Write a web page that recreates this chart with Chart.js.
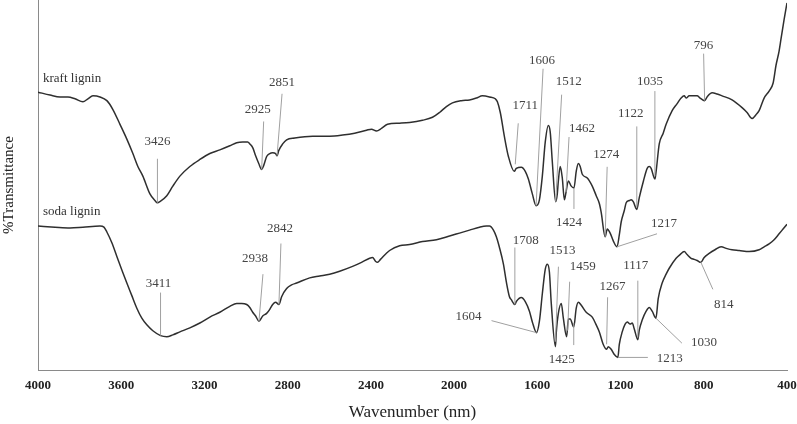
<!DOCTYPE html>
<html>
<head>
<meta charset="utf-8">
<script src="https://cdn.jsdelivr.net/npm/chart.js@4.4.0/dist/chart.umd.min.js"></script>
<style>
  body { margin: 0; background: #fff; }
  #wrap { width: 797px; height: 424px; }
</style>
</head>
<body>
<div id="wrap"><canvas id="ftir" width="797" height="424"></canvas></div>
<script>
// wavenumber (cm-1 as labelled) and relative transmittance
const kraftWn = [4000, 3942, 3894, 3856, 3822, 3784, 3760, 3736, 3702, 3669, 3640, 3606, 3573, 3544, 3520, 3496, 3462, 3438, 3426, 3414, 3381, 3352, 3318, 3270, 3222, 3174, 3126, 3078, 3045, 3016, 2992, 2982, 2968, 2954, 2939, 2925, 2915, 2901, 2886, 2872, 2858, 2851, 2843, 2824, 2805, 2766, 2680, 2598, 2536, 2478, 2421, 2397, 2373, 2349, 2320, 2262, 2214, 2152, 2104, 2070, 2037, 2008, 1965, 1926, 1893, 1864, 1830, 1802, 1792, 1778, 1758, 1739, 1711, 1701, 1677, 1658, 1643, 1624, 1606, 1590, 1576, 1562, 1547, 1538, 1528, 1512, 1504, 1499, 1490, 1480, 1470, 1462, 1451, 1437, 1424, 1413, 1403, 1394, 1384, 1360, 1336, 1317, 1302, 1293, 1274, 1264, 1250, 1235, 1217, 1206, 1197, 1182, 1173, 1158, 1149, 1139, 1122, 1110, 1090, 1072, 1062, 1053, 1035, 1029, 1014, 995, 981, 952, 928, 909, 894, 885, 870, 846, 832, 818, 796, 784, 760, 736, 712, 664, 616, 592, 568, 549, 534, 510, 486, 467, 453, 438, 429, 414, 400];
const kraftT = [75.1, 74.3, 73.8, 73.8, 73.3, 72.5, 73.3, 74.1, 73.8, 72.8, 70.4, 66.4, 62.4, 58.5, 55.0, 52.4, 47.6, 45.8, 45.2, 45.5, 47.1, 49.7, 52.4, 55.0, 56.9, 58.5, 59.5, 60.6, 61.4, 61.6, 61.6, 61.1, 60.1, 57.9, 55.8, 54.2, 55.3, 57.7, 58.5, 58.7, 58.5, 57.9, 59.3, 61.1, 62.2, 62.7, 63.2, 63.2, 63.5, 64.0, 64.8, 65.1, 64.6, 65.3, 66.4, 66.7, 66.9, 67.5, 68.3, 69.6, 71.2, 72.2, 72.8, 73.0, 73.5, 74.1, 73.8, 73.3, 72.5, 69.6, 63.0, 57.7, 53.7, 54.5, 54.8, 53.7, 51.6, 47.6, 44.4, 46.0, 52.4, 61.6, 66.1, 64.3, 56.3, 45.5, 47.6, 51.1, 55.0, 51.9, 46.0, 48.1, 51.1, 49.7, 49.2, 53.7, 55.8, 55.0, 52.9, 51.9, 49.7, 47.1, 45.0, 42.6, 36.0, 38.1, 37.0, 34.9, 33.3, 36.5, 40.0, 43.1, 45.2, 45.8, 46.0, 45.5, 43.4, 46.6, 51.1, 54.5, 55.0, 54.5, 51.6, 53.7, 61.1, 64.0, 66.4, 70.1, 72.0, 73.5, 74.1, 73.5, 74.1, 74.1, 74.1, 73.5, 72.8, 73.8, 74.9, 74.6, 74.1, 73.0, 70.9, 69.6, 68.0, 69.0, 70.1, 73.5, 75.4, 77.5, 82.3, 86.2, 89.4, 94.7, 99.2];

const sodaWn = [4000, 3918, 3846, 3784, 3702, 3683, 3669, 3645, 3621, 3597, 3573, 3549, 3525, 3501, 3477, 3448, 3411, 3381, 3352, 3318, 3270, 3222, 3174, 3126, 3078, 3045, 3021, 2997, 2982, 2968, 2954, 2938, 2920, 2901, 2886, 2872, 2858, 2842, 2829, 2805, 2781, 2757, 2694, 2646, 2598, 2550, 2488, 2445, 2406, 2392, 2378, 2368, 2354, 2310, 2262, 2214, 2152, 2085, 2022, 1974, 1926, 1878, 1845, 1830, 1811, 1797, 1782, 1763, 1749, 1734, 1725, 1708, 1701, 1677, 1658, 1638, 1624, 1604, 1590, 1576, 1562, 1552, 1542, 1533, 1513, 1509, 1499, 1485, 1475, 1459, 1451, 1442, 1425, 1413, 1403, 1389, 1365, 1336, 1317, 1302, 1283, 1267, 1259, 1245, 1230, 1213, 1206, 1192, 1178, 1168, 1154, 1144, 1134, 1117, 1110, 1096, 1077, 1062, 1048, 1030, 1019, 1000, 981, 966, 933, 914, 894, 880, 861, 846, 832, 814, 798, 774, 746, 717, 688, 664, 630, 582, 534, 510, 486, 462, 438, 419, 400];
const sodaT = [38.9, 38.6, 38.4, 38.6, 38.9, 38.6, 37.3, 34.4, 30.7, 27.0, 23.5, 20.1, 16.7, 14.0, 12.2, 10.6, 9.3, 9.0, 9.5, 10.3, 11.4, 12.7, 14.3, 15.6, 17.2, 18.0, 18.0, 17.7, 16.9, 15.6, 14.6, 13.2, 14.6, 15.3, 16.4, 17.7, 18.3, 17.7, 19.8, 22.0, 23.0, 23.5, 24.9, 25.4, 25.9, 26.7, 28.0, 29.1, 30.2, 30.4, 29.4, 29.1, 29.9, 32.3, 33.6, 33.9, 34.7, 35.2, 36.2, 37.0, 37.8, 38.6, 38.9, 38.9, 37.8, 36.0, 33.1, 28.6, 23.8, 19.8, 19.0, 17.7, 18.5, 19.6, 18.5, 15.9, 13.0, 10.1, 13.2, 20.6, 27.2, 28.6, 26.5, 18.0, 6.3, 10.1, 15.3, 18.0, 14.0, 9.0, 13.8, 13.8, 11.6, 16.7, 18.3, 17.5, 15.6, 14.3, 12.2, 10.3, 6.9, 5.6, 6.3, 5.6, 4.2, 3.4, 6.9, 10.3, 12.4, 13.0, 12.4, 12.7, 11.1, 8.2, 10.8, 13.5, 15.9, 16.9, 15.9, 14.0, 19.3, 23.5, 25.9, 27.5, 30.2, 31.2, 32.0, 31.2, 30.2, 29.9, 29.6, 29.1, 30.4, 31.5, 32.5, 33.3, 32.8, 32.5, 32.3, 32.0, 32.5, 33.3, 34.1, 35.2, 36.8, 38.1, 39.4];

const seriesNames = ['kraft lignin', 'soda lignin'];
const kraftPeaks = [3426, 2925, 2851, 1711, 1606, 1512, 1462, 1424, 1274, 1217, 1122, 1035, 796];
const sodaPeaks = [3411, 2938, 2842, 1708, 1604, 1513, 1459, 1425, 1267, 1213, 1117, 1030, 814];
const xTicks = [4000, 3600, 3200, 2800, 2400, 2000, 1600, 1200, 800, 400];

// where each leader line and number sits, in px from the peak on the curve:
// [line start dx, dy, line end dx, dy, text dx, dy]
const kraftLayout = {
  3426: [0, 0, 0, -44, 0, -61],
  2925: [0, 0, 2, -48, -4, -60],
  2851: [0, 0, 5, -62, 5, -73],
  1711: [1, -7, 4, -48, 11, -66],
  1606: [0, 0, 7, -137, 6, -145],
  1512: [0, 0, 6, -107, 13, -120],
  1462: [0, 0, 3, -55, 16, -63],
  1424: [0, 0, 0, 21, -5, 35],
  1274: [0, 0, 2, -70, 1, -82],
  1217: [0, 0, 40, -13, 47, -23],
  1122: [0, -2, 0, -83, -6, -96],
  1035: [0, -3, 0, -88, -5, -98],
  796: [0, 0, -1, -47, -1, -55]
};
const sodaLayout = {
  3411: [0, 0, 0, -43, -2, -52],
  2938: [0, 0, 4, -47, -4, -63],
  2842: [0, 0, 2, -61, 1, -76],
  1708: [0, 0, 0, -57, 11, -64],
  1604: [0, 0, -45, -12, -68, -16],
  1513: [0, -5, 3, -80, 7, -96],
  1459: [1, -6, 3, -55, 16, -70],
  1425: [0, -4, 0, 18, -12, 32],
  1267: [0, -5, 1, -52, 6, -63],
  1117: [0, -2, 0, -59, -2, -74],
  1213: [0, 0, 30, 0, 52, 1],
  1030: [0, 0, 26, 25, 48, 24],
  814: [0, 0, 12, 27, 23, 42]
};

const serif = '"Liberation Serif", "DejaVu Serif", serif';

function toPoints(wn, t) {
  return wn.map((w, i) => ({ x: w, y: t[i] }));
}

function valueAt(wn, t, w) {
  for (let i = 0; i < wn.length - 1; i++) {
    if (wn[i] >= w && w >= wn[i + 1]) {
      const f = (wn[i] - w) / (wn[i] - wn[i + 1]);
      return t[i] + f * (t[i + 1] - t[i]);
    }
  }
  return t[t.length - 1];
}

const peakLabels = {
  id: 'peakLabels',
  afterDatasetsDraw(chart) {
    const ctx = chart.ctx;
    const xs = chart.scales.x;
    const ys = chart.scales.y;
    const groups = [
      { wn: kraftWn, t: kraftT, peaks: kraftPeaks, layout: kraftLayout, name: seriesNames[0] },
      { wn: sodaWn, t: sodaT, peaks: sodaPeaks, layout: sodaLayout, name: seriesNames[1] }
    ];
    ctx.save();
    ctx.font = '13px ' + serif;
    ctx.textBaseline = 'middle';
    groups.forEach(g => {
      // series name above the start of its curve
      ctx.fillStyle = '#333';
      ctx.textAlign = 'left';
      ctx.fillText(g.name, chart.chartArea.left + 5, ys.getPixelForValue(g.t[0]) - 14);

      g.peaks.forEach(p => {
        const L = g.layout[p];
        const ax = xs.getPixelForValue(p);
        const ay = ys.getPixelForValue(valueAt(g.wn, g.t, p));
        ctx.strokeStyle = '#a0a0a0';
        ctx.lineWidth = 1;
        ctx.beginPath();
        ctx.moveTo(ax + L[0], ay + L[1]);
        ctx.lineTo(ax + L[2], ay + L[3]);
        ctx.stroke();
        ctx.fillStyle = '#444';
        ctx.textAlign = 'center';
        ctx.fillText(String(p), ax + L[4], ay + L[5]);
      });
    });
    ctx.restore();
  }
};

new Chart(document.getElementById('ftir'), {
  type: 'line',
  data: {
    datasets: [{
      label: seriesNames[0],
      data: toPoints(kraftWn, kraftT),
      borderColor: '#2f2f2f',
      borderWidth: 1.5,
      pointRadius: 0,
      cubicInterpolationMode: 'monotone',
      fill: false
    }, {
      label: seriesNames[1],
      data: toPoints(sodaWn, sodaT),
      borderColor: '#2f2f2f',
      borderWidth: 1.5,
      pointRadius: 0,
      cubicInterpolationMode: 'monotone',
      fill: false
    }]
  },
  options: {
    responsive: false,
    animation: false,
    devicePixelRatio: 1,
    layout: { padding: { left: 0, top: 0, right: 0, bottom: 0 } },
    plugins: {
      legend: { display: false },
      tooltip: { enabled: false }
    },
    scales: {
      x: {
        type: 'linear',
        reverse: true,
        min: 400,
        max: 4000,
        afterBuildTicks: axis => { axis.ticks = xTicks.map(v => ({ value: v })); },
        // the last label may run to the canvas edge, as in the original
        afterFit: axis => { axis.paddingRight = 10; },
        grid: { display: false, drawTicks: false },
        border: { display: true, color: '#8a8a8a', width: 1 },
        ticks: {
          padding: 8,
          maxRotation: 0,
          autoSkip: false,
          color: '#222',
          font: { family: serif, size: 13, weight: 'bold' },
          callback: v => String(v)
        },
        title: {
          display: true,
          text: 'Wavenumber (nm)',
          color: '#222',
          font: { family: serif, size: 17 },
          padding: { top: 1, bottom: 1 }
        }
      },
      y: {
        min: 0,
        max: 100,
        grid: { display: false, drawTicks: false },
        border: { display: true, color: '#8a8a8a', width: 1 },
        ticks: { display: false },
        title: {
          display: true,
          text: '%Transmittance',
          color: '#222',
          font: { family: serif, size: 15 },
          padding: { top: 0, bottom: 20 }
        }
      }
    }
  },
  plugins: [peakLabels]
});
</script>
</body>
</html>
